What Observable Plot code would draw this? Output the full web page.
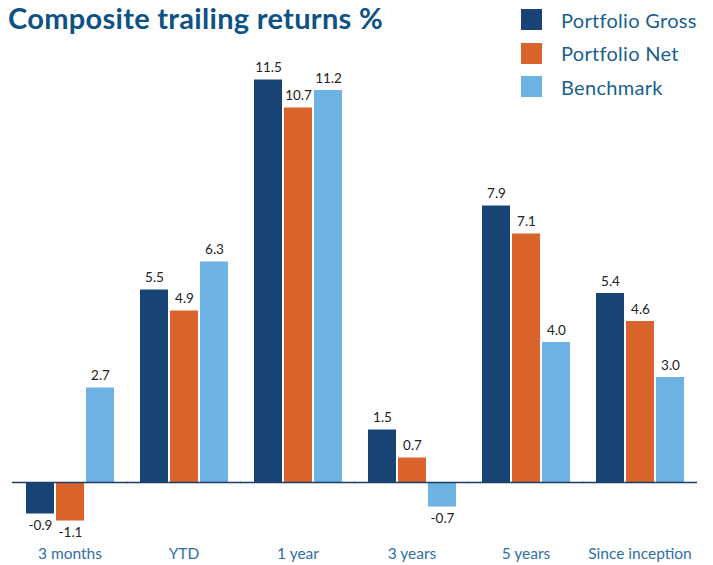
<!DOCTYPE html>
<html><head><meta charset="utf-8">
<script src="https://cdn.jsdelivr.net/npm/d3@7"></script>
<script src="https://cdn.jsdelivr.net/npm/@observablehq/plot@0.6"></script>
<style>
body{margin:0;background:#fff;font-family:Lato,"Open Sans",sans-serif;}
#wrap{position:relative;width:713px;height:565px;}
#title{position:absolute;left:8px;top:0px;font-size:29px;font-weight:700;color:#0D5285;letter-spacing:0.3px;white-space:nowrap;}
#legend{position:absolute;left:521px;top:9px;}
.item{display:flex;align-items:center;height:21px;margin-bottom:12.5px;}
.sw{width:21px;height:21px;margin-right:19px;}
.lab{font-size:20px;color:#1A5F8E;white-space:nowrap;letter-spacing:0.3px;}
#chart{position:absolute;left:0;top:0;}
</style></head>
<body><div id="wrap"><div id="chart"></div><div id="title">Composite trailing returns %</div><div id="legend"></div></div>
<script>
const categories = ["3 months","YTD","1 year","3 years","5 years","Since inception"];
const seriesNames = ["Portfolio Gross","Portfolio Net","Benchmark"];
const gross = [-0.9, 5.5, 11.5, 1.5, 7.9, 5.4];
const net = [-1.1, 4.9, 10.7, 0.7, 7.1, 4.6];
const bench = [2.7, 6.3, 11.2, -0.7, 4.0, 3.0];
const colors = ["#174475","#D9632A","#6CB2E2"];

const vals = [gross, net, bench];
const data = [];
categories.forEach((c,i)=>seriesNames.forEach((s,j)=>data.push({category:c, series:s, value:vals[j][i]})));

const plot = Plot.plot({
  width:713, height:565,
  marginLeft:12, marginRight:17, marginTop:62, marginBottom:30,
  style:{fontFamily:"Lato, 'Open Sans', sans-serif", background:"#fff", overflow:"visible"},
  fx:{domain:categories, paddingInner:0.22, paddingOuter:0.11, label:null, axis:"bottom", tickSize:0, tickPadding:12},
  x:{domain:seriesNames, paddingInner:0.08, paddingOuter:0, axis:null},
  y:{domain:[-1.514,12], axis:null},
  color:{domain:seriesNames, range:colors},
  marks:[
    Plot.barY(data,{fx:"category", x:"series", y:"value", fill:"series"}),
    Plot.ruleY([0],{stroke:"#1F3C66", strokeWidth:1.5, insetLeft:-13, insetRight:-13}),
    Plot.text(data.filter(d=>d.value>=0),{fx:"category", x:"series", y:"value", text:d=>d.value.toFixed(1), dy:-12, fill:"#222", fontSize:13.5}),
    Plot.text(data.filter(d=>d.value<0),{fx:"category", x:"series", y:"value", text:d=>d.value.toFixed(1), dy:12, fill:"#222", fontSize:13.5})
  ]
});
d3.select(plot).selectAll("g[aria-label='fx-axis tick label'] text, g[aria-label='fx-axis'] text").attr("fill","#2F70A5").style("font-size","15.5px");
document.getElementById("chart").appendChild(plot);

const leg = document.getElementById("legend");
seriesNames.forEach((s,i)=>{
  const it=document.createElement("div");it.className="item";
  it.innerHTML=`<div class="sw" style="background:${colors[i]}"></div><div class="lab">${s}</div>`;
  leg.appendChild(it);
});
</script></body></html>
